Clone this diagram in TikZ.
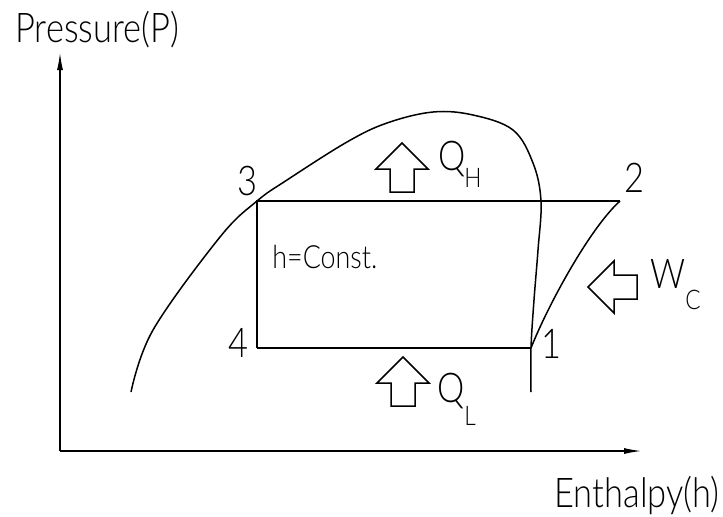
\documentclass[tikz,border=0pt]{standalone}
\usepackage{fontspec}
\usepackage{tikz}
\usetikzlibrary{arrows.meta}
\newfontfamily\cadfont{Lato Light}[FakeStretch=0.84]

\tikzset{
  axis/.style={line width=0.8pt, -{Latex[length=9pt,width=3pt]}},
  cycleline/.style={line width=0.75pt},
  biglabel/.style={font=\cadfont\fontsize{20.5}{24}\selectfont, inner sep=0pt},
  sublabel/.style={font=\cadfont\fontsize{13.5}{16}\selectfont, inner sep=0pt},
  notelabel/.style={font=\cadfont\fontsize{16}{18}\selectfont, inner sep=0pt},
  heatarrow/.pic={
    \draw[line width=0.75pt] (0,0) -- (26,26) -- (12,26) -- (12,49)
      -- (-12,49) -- (-12,26) -- (-26,26) -- cycle;
  }
}

\begin{document}
\begin{tikzpicture}[x=0.5pt, y=-0.5pt]
  % 1 unit = 1 pixel of the 723x516 frame, y grows downwards
  \useasboundingbox (0,0) rectangle (723,516);

  % Axes
  \coordinate (origin) at (60,451);
  \coordinate (ptop) at (60,52);
  \coordinate (hend) at (642,451);
  \draw[axis] (origin) -- (ptop);
  \draw[axis] (origin) -- (hend);
  \node[biglabel, anchor=base west] (plabel) at (15,42) {Pressure(P)};
  \node[biglabel, anchor=base east] (hlabel) at (720,507) {Enthalpy(h)};

  % Saturation dome
  \draw[cycleline] plot[smooth, tension=0.6] coordinates {
    (131,392) (153,330) (220,237) (257,201) (287,180) (347,142)
    (387,123) (433,112) (473,115) (513,130) (533,163) (541,201) (538,250)
    (534,300) (531,348) (531,392)};

  % Cycle states
  \coordinate (p1) at (531,348);
  \coordinate (p2) at (620,201);
  \coordinate (p3) at (257,201);
  \coordinate (p4) at (257,348);
  \draw[cycleline] (p4) -- (p3) -- (p2);
  \draw[cycleline] (p4) -- (p1);
  \draw[cycleline] (p1) .. controls (548,305) and (590,228) .. (p2);

  \node[biglabel, anchor=base] (n1) at (551,358) {1};
  \node[biglabel, anchor=base] (n2) at (634,192) {2};
  \node[biglabel, anchor=base] (n3) at (247,195) {3};
  \node[biglabel, anchor=base] (n4) at (238,357) {4};
  \node[notelabel, anchor=base west] (hconst) at (272,268) {h=Const.};

  % Heat and work
  \pic (qh) at (402,143) {heatarrow};
  \node[biglabel, anchor=base west] (qhtext) at (438,170) {Q};
  \node[sublabel, anchor=base west] (qhsub) at (464,187) {H};

  \pic (ql) at (403,357) {heatarrow};
  \node[biglabel, anchor=base west] (qltext) at (437,402) {Q};
  \node[sublabel, anchor=base west] (qlsub) at (464,425) {L};

  \pic[rotate=90] (wc) at (588,287) {heatarrow};
  \node[biglabel, anchor=base west] (wctext) at (650,288) {W};
  \node[sublabel, anchor=base west] (wcsub) at (685,309) {C};
\end{tikzpicture}
\end{document}
